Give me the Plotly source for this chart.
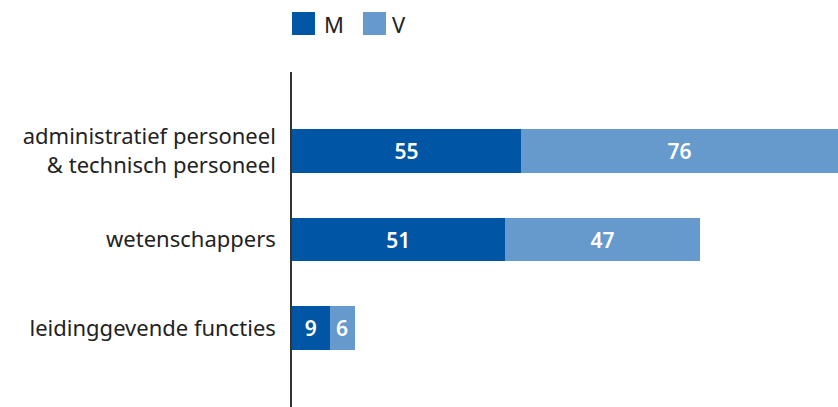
import plotly.graph_objects as go

# categories bottom -> top
categories = ["leidinggevende functies", "wetenschappers",
              "administratief personeel<br>& technisch personeel"]
m_values = [9, 51, 55]
v_values = [6, 47, 76]

c_m = "#0055A5"
c_v = "#6699CC"
font_family = "'Noto Sans', 'Open Sans', sans-serif"

fig = go.Figure()
fig.add_trace(go.Bar(y=categories, x=m_values, name="M", orientation="h",
                     marker=dict(color=c_m, line=dict(width=0)),
                     text=m_values, textposition="inside", insidetextanchor="middle",
                     textfont=dict(color="white", size=21, family=font_family, weight=600),
                     showlegend=False))
fig.add_trace(go.Bar(y=categories, x=v_values, name="V", orientation="h",
                     marker=dict(color=c_v, line=dict(width=0)),
                     text=v_values, textposition="inside", insidetextanchor="middle",
                     textfont=dict(color="white", size=21, family=font_family, weight=600),
                     showlegend=False))

# hand-drawn legend at the top
fig.add_shape(type="rect", xref="paper", yref="paper", xsizemode="pixel", ysizemode="pixel",
              xanchor=0, yanchor=1, x0=0, x1=23, y0=37, y1=60,
              fillcolor=c_m, line=dict(width=0))
fig.add_shape(type="rect", xref="paper", yref="paper", xsizemode="pixel", ysizemode="pixel",
              xanchor=0, yanchor=1, x0=71, x1=94, y0=37, y1=60,
              fillcolor=c_v, line=dict(width=0))
fig.add_annotation(text="M", xref="paper", yref="paper", xshift=30, x=0, y=1,
                   yshift=48.5, xanchor="left", yanchor="middle", showarrow=False,
                   font=dict(size=22, color="#222222", family=font_family))
fig.add_annotation(text="V", xref="paper", yref="paper", xshift=98, x=0, y=1,
                   yshift=48.5, xanchor="left", yanchor="middle", showarrow=False,
                   font=dict(size=22, color="#222222", family=font_family))

fig.update_layout(
    width=838, height=407,
    barmode="stack", bargap=0.51,
    margin=dict(l=292, r=0, t=72, b=0),
    plot_bgcolor="white", paper_bgcolor="white",
    font=dict(family=font_family, size=22, color="#222222"),
    xaxis=dict(range=[0, 131], visible=False),
    yaxis=dict(range=[-0.893, 2.893], showline=True, linecolor="#333333", linewidth=1.5,
               ticks="", showgrid=False, ticklabelstandoff=10, zeroline=False),
    uniformtext=dict(minsize=10, mode="show"),
)

# drop the default body margin so the figure sits flush in the window
fig.write_html("out.html", config={"displayModeBar": False},
               post_script="document.body.style.margin='0';")
